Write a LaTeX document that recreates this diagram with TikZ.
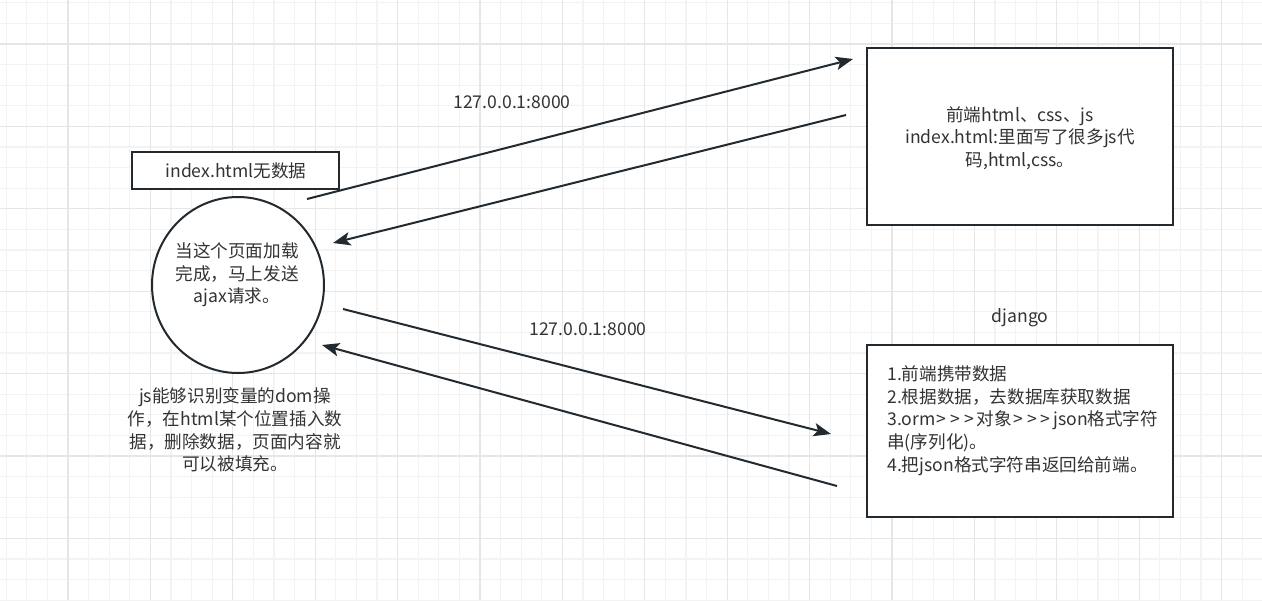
\documentclass[tikz,border=0pt]{standalone}
\usepackage{fontspec}
\setmainfont{Noto Sans CJK SC}
\usetikzlibrary{arrows.meta,shapes.geometric}
\definecolor{txt}{HTML}{333333}
\definecolor{ln}{HTML}{222A30}
\definecolor{gmin}{HTML}{F3F3F3}
\definecolor{gmaj}{HTML}{E6E6E6}
\newcommand{\gtsym}{\kern1pt>\kern2pt}
\begin{document}
\begin{tikzpicture}[x=0.75pt,y=-0.75pt,
 lbl/.style={text=txt,font=\fontsize{13.2pt}{17pt}\selectfont,inner sep=0pt,align=center},
 boxn/.style={draw=ln,line width=1.5pt,fill=white,inner sep=0pt},
 arr/.style={draw=ln,line width=1.5pt,-{Stealth[length=13pt,width=10pt,inset=3pt]}}]
\useasboundingbox (0,0) rectangle (1262,600);
\fill[white] (0,0) rectangle (1262,600);
% grid
\foreach \k in {0,...,61} {\draw[gmin,line width=0.9pt] ({6.2+20.6*\k},0) -- ({6.2+20.6*\k},600);}
\foreach \k in {0,...,29} {\draw[gmin,line width=0.9pt] (0,{2.8+20.6*\k}) -- (1262,{2.8+20.6*\k});}
\foreach \k in {0,...,15} {\draw[gmaj,line width=0.9pt] ({68+82.4*\k},0) -- ({68+82.4*\k},600);}
\foreach \k in {0,...,7} {\draw[gmaj,line width=0.9pt] (0,{44+82.4*\k}) -- (1262,{44+82.4*\k});}
% shapes
\node[boxn,minimum width=229.5pt,minimum height=132.75pt] (front) at (1020,136.5) {};
\node[lbl] (fronttxt) at (1020,138) {前端html、css、js\\index.html:里面写了很多js代\\码,html,css。};
\node[boxn,minimum width=229.5pt,minimum height=129pt] (django) at (1020,431) {};
\node[lbl,align=left,anchor=west] (djtxt) at (887,420.5) {1.前端携带数据\\2.根据数据，去数据库获取数据\\3.orm\gtsym\gtsym\gtsym 对象\gtsym\gtsym\gtsym json格式字符\\串(序列化)。\\4.把json格式字符串返回给前端。};
\node[lbl] (djlabel) at (1020,318) {django};
\node[boxn,minimum width=155.25pt,minimum height=27.75pt] (idx) at (235.5,170.5) {};
\node[lbl] (idxtxt) at (236,171) {index.html无数据};
\node[boxn,ellipse,minimum width=129pt,minimum height=132pt] (page) at (238,285) {};
\node[lbl] (pagetxt) at (237,275) {当这个页面加载\\完成，马上发送\\ajax请求。};
\node[lbl] (domtxt) at (235,430) {js能够识别变量的dom操\\作，在html某个位置插入数\\据，删除数据，页面内容就\\可以被填充。};
\node[lbl] (ip1) at (512,102) {127.0.0.1:8000};
\node[lbl] (ip2) at (588,329) {127.0.0.1:8000};
% connectors
\coordinate (a1s) at (307,199); \coordinate (a1e) at (853,59);
\coordinate (a2s) at (846,115); \coordinate (a2e) at (333,243);
\coordinate (a3s) at (343,309); \coordinate (a3e) at (831,434);
\coordinate (a4s) at (837,486); \coordinate (a4e) at (322,345);
\draw[arr] (a1s) -- (a1e);
\draw[arr] (a2s) -- (a2e);
\draw[arr] (a3s) -- (a3e);
\draw[arr] (a4s) -- (a4e);
\end{tikzpicture}
\end{document}
